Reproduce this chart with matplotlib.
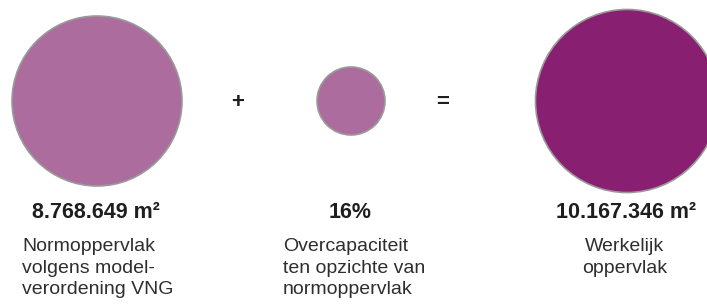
import numpy as np
import matplotlib.pyplot as plt
from matplotlib.patches import Circle

# data
areas = [8768649, 0.16 * 8768649, 10167346]
values = ["8.768.649 m²", "16%", "10.167.346 m²"]
descriptions = [
    "Normoppervlak\nvolgens model-\nverordening VNG",
    "Overcapaciteit\nten opzichte van\nnormoppervlak",
    "Werkelijk\noppervlak",
]
operators = ["+", "="]

colors = ["#ad6c9e", "#ad6c9e", "#891f71"]
centers_x = [97, 351, 627]
op_x = [238, 443]
cy = 101
r_ref = 85  # pixel radius of the first circle

plt.rcParams['font.family'] = ['Liberation Sans', 'DejaVu Sans']

fig = plt.figure(figsize=(7.07, 3.07), dpi=100)
ax = fig.add_axes([0, 0, 1, 1])
ax.set_xlim(0, 707)
ax.set_ylim(307, 0)
ax.set_aspect('equal')
ax.axis('off')

for i, a in enumerate(areas):
    r = r_ref * np.sqrt(a / areas[0])
    ax.add_patch(Circle((centers_x[i], cy), r, facecolor=colors[i],
                        edgecolor="#9a9a9a", linewidth=1.2))
    ax.text(centers_x[i] - 1, 213, values[i], ha='center', va='center',
            fontsize=15.5, fontweight='bold', color='#1e1e1e')

# descriptions: first two left-aligned, last centered
desc_style = dict(va='top', fontsize=14, color='#2e2e2e', linespacing=1.36)
ax.text(22, 238, descriptions[0], ha='left', **desc_style)
ax.text(283, 238, descriptions[1], ha='left', **desc_style)
ax.text(625, 238, descriptions[2], ha='center', **desc_style)

for x, op in zip(op_x, operators):
    ax.text(x, cy + 1, op, ha='center', va='center', fontsize=16,
            fontweight='bold', color='#1e1e1e')

fig.savefig("out.png", dpi=100)
